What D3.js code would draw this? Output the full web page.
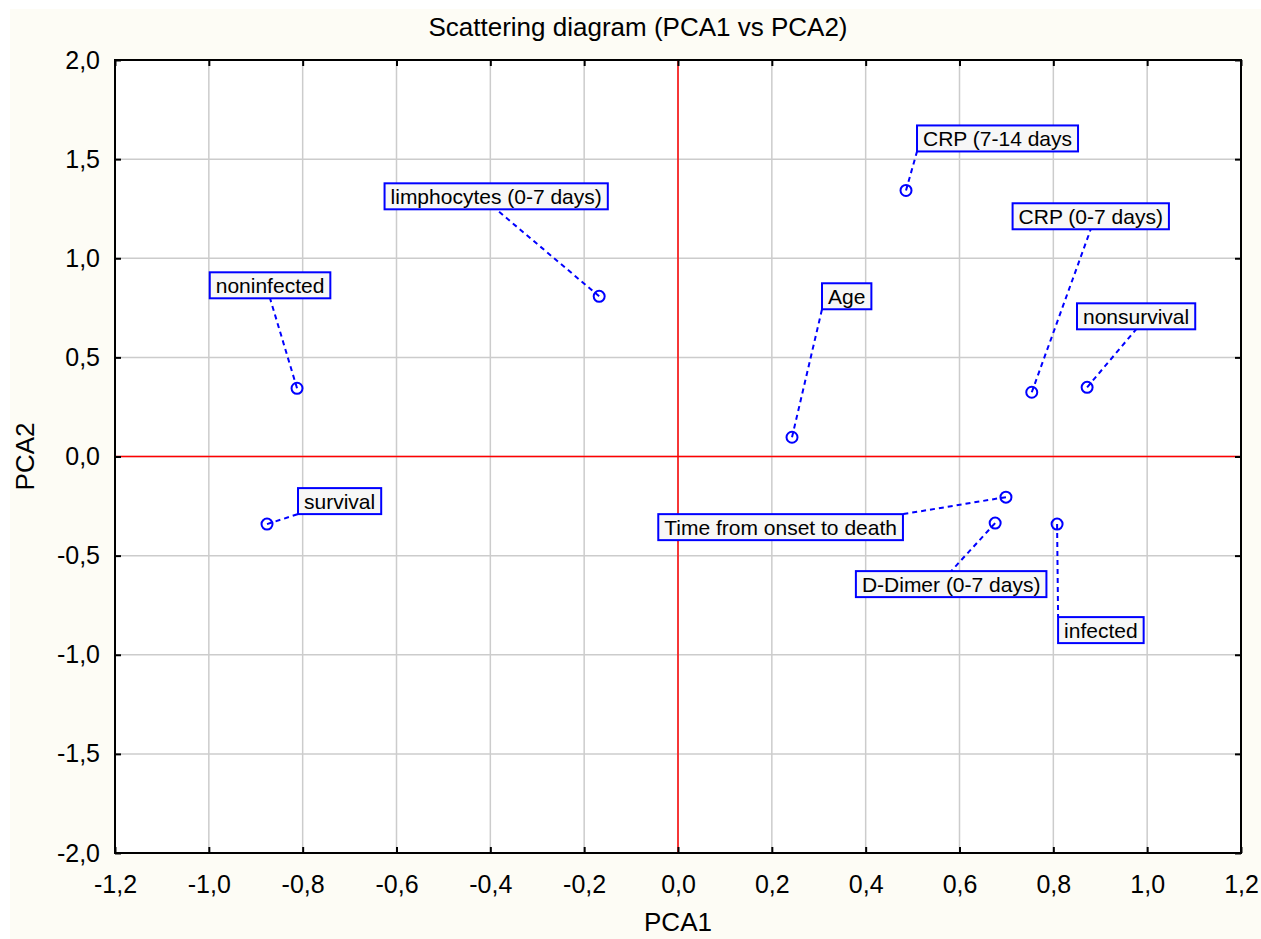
<!DOCTYPE html>
<html>
<head>
<meta charset="utf-8">
<script src="https://cdn.jsdelivr.net/npm/d3@7"></script>
<style>
  body { margin: 0; background: #ffffff; }
  svg { display: block; }
</style>
</head>
<body>
<div id="chart"></div>
<script>
// data
const names = ["noninfected", "survival", "limphocytes (0-7 days)", "Age", "CRP (7-14 days",
  "CRP (0-7 days)", "nonsurvival", "Time from onset to death", "D-Dimer (0-7 days)", "infected"];
const pca1 = [-0.812, -0.876, -0.168, 0.243, 0.486, 0.754, 0.872, 0.699, 0.676, 0.808];
const pca2 = [0.344, -0.341, 0.808, 0.097, 1.342, 0.324, 0.349, -0.205, -0.336, -0.341];
const xTicks = [-1.2, -1.0, -0.8, -0.6, -0.4, -0.2, 0.0, 0.2, 0.4, 0.6, 0.8, 1.0, 1.2];
const yTicks = [-2.0, -1.5, -1.0, -0.5, 0.0, 0.5, 1.0, 1.5, 2.0];

// where each label box sits relative to its point (anchor on the box, pixel offset)
const labelLayout = [
  { anchor: "bc", dx: -27, dy: -90 },
  { anchor: "bl", dx: 31, dy: -10 },
  { anchor: "bc", dx: -103, dy: -87 },
  { anchor: "bl", dx: 30, dy: -128 },
  { anchor: "bl", dx: 11, dy: -39 },
  { anchor: "bc", dx: 59, dy: -163 },
  { anchor: "bc", dx: 49, dy: -58 },
  { anchor: "tr", dx: -103, dy: 17 },
  { anchor: "tc", dx: -44, dy: 48 },
  { anchor: "tl", dx: 1, dy: 93 }
];

const data = names.map((n, i) => ({ name: n, x: pca1[i], y: pca2[i], lay: labelLayout[i] }));

const width = 1261, height = 939;
const margin = { top: 60, right: 20, bottom: 86, left: 115 };
const plotWidth = width - margin.left - margin.right;
const plotHeight = height - margin.top - margin.bottom;
const font = "'Liberation Sans', Arial, Helvetica, sans-serif";
const fmt = d => d.toFixed(1).replace(".", ",");

const xScale = d3.scaleLinear().domain([-1.2, 1.2]).range([0, plotWidth]);
const yScale = d3.scaleLinear().domain([-2, 2]).range([plotHeight, 0]);

const svg = d3.select("#chart")
  .append("svg")
  .attr("width", width)
  .attr("height", height)
  .style("font-family", font);

svg.append("rect")
  .attr("x", 10).attr("y", 9)
  .attr("width", width - 10).attr("height", height - 9)
  .attr("fill", "#fdfcf5");

const g = svg.append("g")
  .attr("transform", `translate(${margin.left}, ${margin.top})`);

g.append("rect")
  .attr("width", plotWidth)
  .attr("height", plotHeight)
  .attr("fill", "#ffffff");

// grid
g.selectAll(".gridx")
  .data(xTicks.slice(1, -1))
  .enter()
  .append("line")
  .attr("class", "gridx")
  .attr("x1", d => xScale(d))
  .attr("x2", d => xScale(d))
  .attr("y1", 0)
  .attr("y2", plotHeight)
  .attr("stroke", "#cccccc")
  .attr("stroke-width", 1.5);

g.selectAll(".gridy")
  .data(yTicks.slice(1, -1))
  .enter()
  .append("line")
  .attr("class", "gridy")
  .attr("x1", 0)
  .attr("x2", plotWidth)
  .attr("y1", d => yScale(d))
  .attr("y2", d => yScale(d))
  .attr("stroke", "#cccccc")
  .attr("stroke-width", 1.5);

// red zero lines on top of grey ones
g.append("line")
  .attr("x1", xScale(0)).attr("x2", xScale(0))
  .attr("y1", 0).attr("y2", plotHeight)
  .attr("stroke", "#ff0000").attr("stroke-width", 1.5);
g.append("line")
  .attr("x1", 0).attr("x2", plotWidth)
  .attr("y1", yScale(0)).attr("y2", yScale(0))
  .attr("stroke", "#ff0000").attr("stroke-width", 1.5);

// axes, ticks pointing inward
const xAxis = d3.axisBottom(xScale).tickValues(xTicks).tickFormat(fmt).tickSize(-6).tickPadding(22);
const yAxis = d3.axisLeft(yScale).tickValues(yTicks).tickFormat(fmt).tickSize(-6).tickPadding(15);
const xTop = d3.axisTop(xScale).tickValues(xTicks).tickFormat("").tickSize(-6);
const yRight = d3.axisRight(yScale).tickValues(yTicks).tickFormat("").tickSize(-6);

function styleAxis(sel) {
  sel.select(".domain").remove();
  sel.selectAll(".tick line").attr("stroke", "#000").attr("stroke-width", 2);
  sel.selectAll(".tick text")
    .attr("fill", "#000")
    .style("font-family", font)
    .style("font-size", "25px");
}

g.append("g").attr("transform", `translate(0, ${plotHeight})`).call(xAxis).call(styleAxis);
g.append("g").call(yAxis).call(styleAxis);
g.append("g").call(xTop).call(styleAxis);
g.append("g").attr("transform", `translate(${plotWidth}, 0)`).call(yRight).call(styleAxis);

// frame
g.append("rect")
  .attr("width", plotWidth)
  .attr("height", plotHeight)
  .attr("fill", "none")
  .attr("stroke", "#000")
  .attr("stroke-width", 2);

// titles
svg.append("text")
  .attr("x", 638)
  .attr("y", 36)
  .attr("text-anchor", "middle")
  .style("font-size", "26px")
  .text("Scattering diagram (PCA1 vs PCA2)");

svg.append("text")
  .attr("x", margin.left + xScale(0))
  .attr("y", 931)
  .attr("text-anchor", "middle")
  .style("font-size", "26px")
  .text("PCA1");

svg.append("text")
  .attr("transform", `translate(34, ${margin.top + yScale(0)}) rotate(-90)`)
  .attr("text-anchor", "middle")
  .style("font-size", "26px")
  .text("PCA2");

// labels: measure text first, then place boxes
const pad = 6, boxH = 26;
const labels = g.selectAll(".label")
  .data(data)
  .enter()
  .append("g")
  .attr("class", "label");

const lbText = labels.append("text")
  .style("font-size", "21px")
  .attr("fill", "#000")
  .text(d => d.name);

lbText.each(function (d) {
  const w = this.getComputedTextLength() + 2 * pad;
  const ax = xScale(d.x) + d.lay.dx;
  const ay = yScale(d.y) + d.lay.dy;
  let bx = ax, by = ay;
  if (d.lay.anchor[1] === "c") bx = ax - w / 2;
  if (d.lay.anchor[1] === "r") bx = ax - w;
  if (d.lay.anchor[0] === "b") by = ay - boxH;
  d.box = { x: bx, y: by, w: w, ax: ax, ay: ay };
});

// leader lines
g.selectAll(".leader")
  .data(data)
  .enter()
  .insert("line", ".label")
  .attr("class", "leader")
  .attr("x1", d => xScale(d.x))
  .attr("y1", d => yScale(d.y))
  .attr("x2", d => d.box.ax)
  .attr("y2", d => d.box.ay)
  .attr("stroke", "#0000ff")
  .attr("stroke-width", 2)
  .attr("stroke-dasharray", "5,4");

labels.insert("rect", "text")
  .attr("x", d => d.box.x)
  .attr("y", d => d.box.y)
  .attr("width", d => d.box.w)
  .attr("height", boxH)
  .attr("fill", "#f7f7f7")
  .attr("stroke", "#0000ff")
  .attr("stroke-width", 2);

lbText
  .attr("x", d => d.box.x + pad)
  .attr("y", d => d.box.y + 21);

// points
g.selectAll(".pt")
  .data(data)
  .enter()
  .append("circle")
  .attr("class", "pt")
  .attr("cx", d => xScale(d.x))
  .attr("cy", d => yScale(d.y))
  .attr("r", 5.5)
  .attr("fill", "none")
  .attr("stroke", "#0000ff")
  .attr("stroke-width", 2);
</script>
</body>
</html>
